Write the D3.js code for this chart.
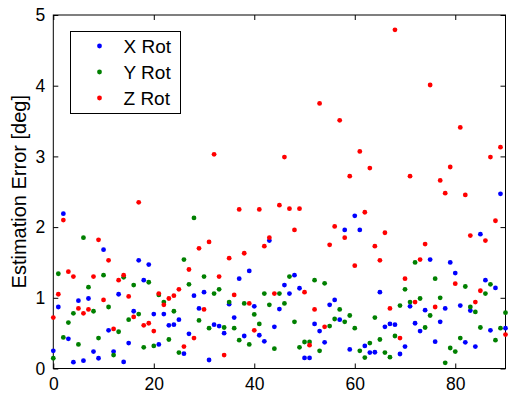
<!DOCTYPE html>
<html>
<head>
<meta charset="utf-8">
<script src="https://cdn.jsdelivr.net/npm/d3@7"></script>
<style>
  html, body { margin: 0; padding: 0; background: #fff; }
  svg { display: block; font-family: "Liberation Sans", Arial, Helvetica, sans-serif; }
</style>
</head>
<body>
<svg id="chart" width="510" height="396"></svg>
<script>
// Estimation error per trial (index 0..90), in degrees
const xRot = [0.25,0.87,2.19,0.42,0.09,0.96,0.11,0.99,0.24,0.145,1.68,0.54,0.24,1.05,0.093,0.36,0.81,1.53,1.25,1.47,
  0.77,0.34,0.77,0.61,0.62,0.69,0.21,0.49,1.03,0.85,1.08,0.12,0.62,0.60,0.50,0.91,0.72,1.27,0.46,1.38,
  0.88,0.47,0.385,1.81,0.59,0.84,1.18,1.06,1.32,1.135,0.15,0.15,0.63,0.53,0.37,0.90,0.97,0.69,1.96,0.27,
  2.16,1.96,0.32,0.225,0.23,1.08,0.59,0.63,0.62,0.205,0.31,0.88,0.64,0.53,0.825,1.54,0.38,0.66,0.85,1.50,
  1.35,0.89,0.37,0.82,0.31,1.90,1.25,0.54,1.14,2.47,0.57];
const yRot = [0.145,1.34,0.44,0.65,0.78,0.34,1.85,1.15,0.81,0.43,1.32,0.87,0.19,0.52,1.29,0.69,1.18,0.77,0.30,1.22,
  0.32,1.04,0.94,0.41,0.81,0.225,1.54,1.19,2.13,0.68,1.30,0.57,1.06,1.12,0.58,0.94,0.57,0.40,0.92,0.34,
  0.765,0.63,1.06,0.90,0.28,1.06,0.92,1.30,0.66,0.30,0.375,0.375,1.25,0.25,1.205,0.60,0.70,0.835,0.66,0.75,
  0.57,0.25,0.155,0.36,0.72,0.41,0.225,0.16,0.46,0.89,1.12,0.94,1.50,0.99,0.58,0.75,1.27,1.00,0.08,0.29,
  0.24,0.43,1.16,0.87,0.80,0.58,1.06,1.19,0.40,0.57,0.79];
const zRot = [0.72,1.05,2.10,1.37,1.30,0.85,0.78,0.835,1.30,1.82,0.97,1.53,0.56,1.25,1.32,1.02,0.73,2.35,0.61,0.64,
  0.53,1.06,0.90,0.99,1.03,1.12,0.31,1.40,0.43,1.70,0.835,1.79,3.03,1.30,0.19,1.56,1.04,2.25,1.63,0.92,
  0.54,2.25,1.73,1.85,1.06,2.31,2.99,2.26,1.96,2.26,1.08,0.33,0.835,3.75,0.59,1.75,2.01,3.51,1.85,2.72,
  1.455,3.07,2.21,2.835,1.73,1.53,1.92,0.85,4.79,0.43,1.27,2.72,0.94,1.54,1.76,4.01,0.87,2.66,2.48,2.85,
  1.20,3.41,2.455,1.88,0.94,1.10,1.81,2.99,2.09,3.13,0.48];

const seriesNames = ["X Rot", "Y Rot", "Z Rot"];
const seriesColors = ["#0000ff", "#008000", "#ff0000"];
const xTicks = [0, 20, 40, 60, 80];
const yTicks = [0, 1, 2, 3, 4, 5];

const series = [xRot, yRot, zRot].map((vals, k) => ({
  name: seriesNames[k], color: seriesColors[k], values: vals
}));

const svg = d3.select("#chart");
const plot = { left: 53.3, right: 505.5, top: 15, bottom: 368.5 };

const x = d3.scaleLinear().domain([0, 90]).range([plot.left, plot.right]);
const y = d3.scaleLinear().domain([0, 5]).range([plot.bottom, plot.top]);

// Axis box
svg.append("rect")
  .attr("x", plot.left).attr("y", plot.top)
  .attr("width", plot.right - plot.left).attr("height", plot.bottom - plot.top)
  .attr("fill", "#fff").attr("stroke", "#000").attr("stroke-width", 1);

// Bottom and left axes with inward ticks
const tickLen = 5;
const fmt = d3.format("d");
const gx = svg.append("g").attr("transform", `translate(0,${plot.bottom})`)
  .call(d3.axisBottom(x).tickValues(xTicks).tickFormat(fmt).tickSizeInner(-tickLen).tickSizeOuter(0).tickPadding(tickLen + 4));
const gy = svg.append("g").attr("transform", `translate(${plot.left},0)`)
  .call(d3.axisLeft(y).tickValues(yTicks).tickFormat(fmt).tickSizeInner(-tickLen).tickSizeOuter(0).tickPadding(tickLen + 3));
// Mirrored ticks on top and right
const gxTop = svg.append("g").attr("transform", `translate(0,${plot.top})`)
  .call(d3.axisTop(x).tickValues(xTicks).tickSizeInner(-tickLen).tickSizeOuter(0).tickFormat(""));
const gyRight = svg.append("g").attr("transform", `translate(${plot.right},0)`)
  .call(d3.axisRight(y).tickValues(yTicks).tickSizeInner(-tickLen).tickSizeOuter(0).tickFormat(""));

[gx, gy, gxTop, gyRight].forEach(g => {
  g.select(".domain").remove();
  g.selectAll(".tick line").attr("stroke", "#000");
  g.selectAll("text").attr("fill", "#000").style("font-size", "17.5px")
    .style("font-family", "'Liberation Sans', Arial, sans-serif");
});
gx.selectAll("text").attr("dy", "0.71em");

// Y axis label
svg.append("text")
  .attr("transform", `translate(26,${(plot.top + plot.bottom) / 2}) rotate(-90)`)
  .attr("text-anchor", "middle")
  .style("font-size", "20px")
  .attr("fill", "#000")
  .text("Estimation Error [deg]");

// Points
const pts = svg.append("g");
series.forEach(s => {
  pts.append("g").selectAll("circle")
    .data(s.values)
    .join("circle")
    .attr("cx", (d, i) => x(i))
    .attr("cy", d => y(d))
    .attr("r", 2.4)
    .attr("fill", s.color);
});

// Legend
const legend = svg.append("g").attr("transform", "translate(70.5,31.5)");
legend.append("rect").attr("width", 110).attr("height", 82)
  .attr("fill", "#fff").attr("stroke", "#000").attr("stroke-width", 1);
series.forEach((s, k) => {
  const cy = 14.5 + k * 26;
  legend.append("circle").attr("cx", 29).attr("cy", cy).attr("r", 2.4).attr("fill", s.color);
  legend.append("text").attr("x", 53).attr("y", cy).attr("dy", "0.36em")
    .style("font-size", "19px").attr("fill", "#000").text(s.name);
});
</script>
</body>
</html>
